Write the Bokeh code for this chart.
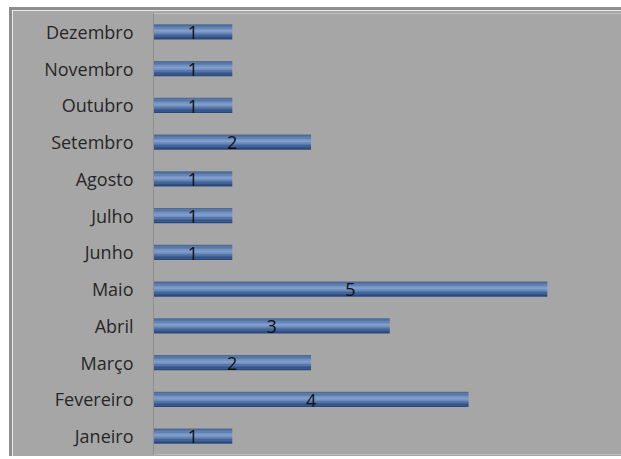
from bokeh.plotting import figure
from bokeh.models import ColumnDataSource, FactorRange, Range1d
from bokeh.transform import dodge
from bokeh.core.properties import value
from bokeh.embed import file_html
from bokeh.resources import INLINE

months = ["Janeiro", "Fevereiro", "Março", "Abril", "Maio", "Junho",
          "Julho", "Agosto", "Setembro", "Outubro", "Novembro", "Dezembro"]
counts = [1, 4, 2, 3, 5, 1, 1, 1, 2, 1, 1, 1]
labels = [str(c) for c in counts]

src = ColumnDataSource(dict(month=months, count=counts, half=[c / 2 for c in counts], label=labels))

BG = "#a6a6a6"
p = figure(width=612, height=449, y_range=FactorRange(*months), x_range=Range1d(0, 5.98),
           output_backend="svg", toolbar_location=None,
           background_fill_color=BG, border_fill_color=BG,
           min_border_left=141, min_border_right=0, min_border_top=3, min_border_bottom=5,
           styles={"margin-left": "9px", "margin-top": "7px",
                   "border-left": "3px solid #8e8e8e", "border-top": "3px solid #8e8e8e"})
p.outline_line_color = None
p.xgrid.visible = False
p.ygrid.visible = False
p.xaxis.visible = False

ax = p.yaxis[0]
ax.axis_line_color = "#8e8e8e"
ax.axis_line_width = 1
ax.major_tick_line_color = None
ax.minor_tick_line_color = None
ax.major_tick_out = 0
ax.major_tick_in = 0
ax.major_label_standoff = 20
ax.major_label_text_font = "Open Sans"
ax.major_label_text_font_size = "18px"
ax.major_label_text_color = "#262626"

# gradient-like stripes of the bars (top to bottom)
stripe_colors = ["#4d6b98", "#5674a4", "#6180b2", "#7494c5", "#7f9fd0",
                 "#6f90c2", "#5878ad", "#42649a", "#33558a", "#2a4a7d"]
bar_h = 0.41
n = len(stripe_colors)
step = bar_h / n
for i, col in enumerate(stripe_colors):
    off = bar_h / 2 - step * (i + 0.5)
    p.hbar(y=dodge("month", off, range=p.y_range), left=0, right="count",
           height=step * 1.15, source=src, fill_color=col, line_color=None)

p.text(x="half", y=dodge("month", -0.02, range=p.y_range), text="label", source=src,
       text_align="center", text_baseline="middle",
       text_font=value("Open Sans"), text_font_size="18px", text_color="#111111")

open("out.html", "w").write(file_html(p, INLINE))
